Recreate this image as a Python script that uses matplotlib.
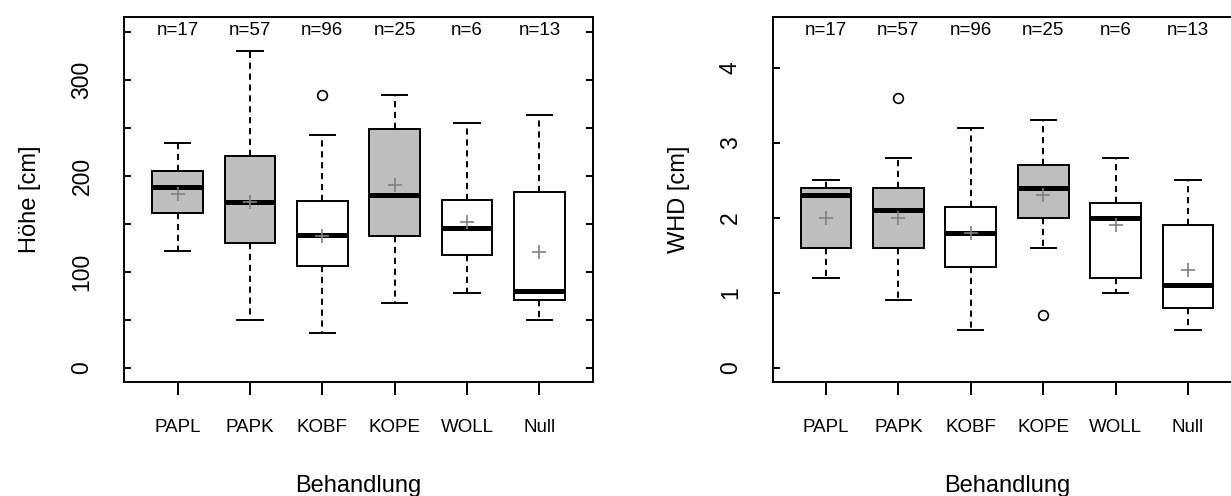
import matplotlib
matplotlib.use("Agg")
import matplotlib.pyplot as plt
from matplotlib.transforms import blended_transform_factory

plt.rcParams["font.family"] = ["Liberation Sans", "DejaVu Sans"]

groups = ["PAPL", "PAPK", "KOBF", "KOPE", "WOLL", "Null"]
counts = [17, 57, 96, 25, 6, 13]
filled = [True, True, False, True, False, False]

# Höhe [cm]
h_whislo = [122, 50, 36, 68, 78, 50]
h_q1 = [161, 130, 106, 138, 118, 71]
h_med = [188, 173, 139, 180, 146, 80]
h_q3 = [205, 221, 174, 249, 175, 183]
h_whishi = [234, 330, 243, 284, 255, 263]
h_mean = [181, 173, 138, 191, 152, 121]
h_fliers = [[], [], [284], [], [], []]

# WHD [cm]
w_whislo = [1.2, 0.9, 0.5, 1.6, 1.0, 0.5]
w_q1 = [1.6, 1.6, 1.35, 2.0, 1.2, 0.8]
w_med = [2.3, 2.1, 1.8, 2.4, 2.0, 1.1]
w_q3 = [2.4, 2.4, 2.15, 2.7, 2.2, 1.9]
w_whishi = [2.5, 2.8, 3.2, 3.3, 2.8, 2.5]
w_mean = [2.0, 2.0, 1.8, 2.3, 1.9, 1.3]
w_fliers = [[], [3.6], [], [0.7], [], []]

LW = 1.4


def make_stats(lo, q1, med, q3, hi, mean, fliers):
    return [
        dict(label=g, whislo=lo[i], q1=q1[i], med=med[i], q3=q3[i],
             whishi=hi[i], mean=mean[i], fliers=fliers[i])
        for i, g in enumerate(groups)
    ]


def draw_panel(ax, stats, ylim, major, minor, ylabel):
    bp = ax.bxp(
        stats,
        positions=range(1, len(groups) + 1),
        widths=0.7,
        patch_artist=True,
        showmeans=True,
        boxprops=dict(edgecolor="black", linewidth=LW),
        medianprops=dict(color="black", linewidth=3.6, solid_capstyle="butt"),
        whiskerprops=dict(color="black", linewidth=LW, linestyle=(0, (3.2, 2.4))),
        capprops=dict(color="black", linewidth=LW),
        capwidths=0.35,
        meanprops=dict(marker="+", markeredgecolor="#808080", markersize=10,
                       markeredgewidth=1.2, linestyle="none"),
        flierprops=dict(marker="o", markerfacecolor="none", markeredgecolor="black",
                        markersize=7, markeredgewidth=1.2),
    )
    for patch, f in zip(bp["boxes"], filled):
        patch.set_facecolor("#bebebe" if f else "white")

    ax.set_xlim(0.26, 6.74)
    ax.set_ylim(*ylim)
    ax.set_yticks(major)
    ax.set_yticks(minor, minor=True)
    ax.tick_params(axis="y", which="both", direction="in", length=5, width=LW,
                   left=True, right=True, labelsize=16.5, pad=22)
    for lab in ax.get_yticklabels():
        lab.set_rotation(90)
        lab.set_va("center")
    ax.tick_params(axis="x", direction="out", length=9.5, width=LW,
                   labelsize=13.5, pad=17)
    ax.set_xticks(range(1, len(groups) + 1))
    ax.set_xticklabels(groups)
    for sp in ax.spines.values():
        sp.set_linewidth(LW)
    ax.set_ylabel(ylabel, fontsize=17, labelpad=21)
    ax.set_xlabel("Behandlung", fontsize=17, labelpad=28)

    trans = blended_transform_factory(ax.transData, ax.transAxes)
    for i, n in enumerate(counts):
        ax.text(i + 1, 0.962, f"n={n}", transform=trans, ha="center", va="center",
                fontsize=13.5)


fig = plt.figure(figsize=(12.31, 4.96), dpi=100)
ax1 = fig.add_axes([124 / 1231, 114 / 496, 469 / 1231, 365 / 496])
ax2 = fig.add_axes([772.5 / 1231, 114 / 496, 469 / 1231, 365 / 496])

draw_panel(ax1, make_stats(h_whislo, h_q1, h_med, h_q3, h_whishi, h_mean, h_fliers),
           (-14.6, 365.6), [0, 100, 200, 300], [50, 150, 250, 350], "Höhe [cm]")
draw_panel(ax2, make_stats(w_whislo, w_q1, w_med, w_q3, w_whishi, w_mean, w_fliers),
           (-0.187, 4.68), [0, 1, 2, 3, 4], [], "WHD [cm]")
ax2.tick_params(axis="y", which="both", right=False)

fig.savefig("out.png", dpi=100)
